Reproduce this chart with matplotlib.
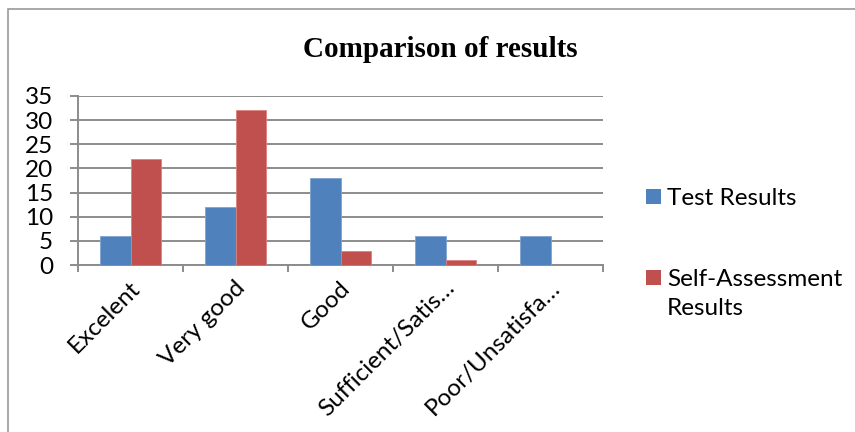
import numpy as np
import matplotlib
matplotlib.use("Agg")
import matplotlib.pyplot as plt
import matplotlib.transforms as mtransforms
from matplotlib.patches import Rectangle

categories = ["Excelent", "Very good", "Good", "Sufficient/Satis…", "Poor/Unsatisfa…"]
test_results = [6, 12, 18, 6, 6]
self_assessment = [22, 32, 3, 1, 0]
series_names = ["Test Results", "Self-Assessment\nResults"]

blue = "#4F81BD"
red = "#C0504D"
grid_col = "#8C8C8C"
fsize = 17.5

plt.rcParams["font.family"] = ["Lato", "DejaVu Sans"]

W, H = 855, 432
fig = plt.figure(figsize=(W / 100, H / 100), dpi=100)

def px(x, y):
    # pixel position (from top-left) to figure fraction
    return x / W, 1 - y / H

# chart frame
fig.patches.append(Rectangle((8 / W, -0.2), 1.2, 1.2 - 9 / H, transform=fig.transFigure,
                             fill=False, edgecolor="#9A9A9A", lw=1.2))

left, top = px(78, 96)
right, bottom = px(603, 265)
ax = fig.add_axes([left, bottom, right - left, top - bottom])

x = np.arange(len(categories))
bw = 0.286
ax.bar(x - bw / 2, test_results, bw, color=blue, edgecolor="#7FA3D0", linewidth=0.6, zorder=3)
ax.bar(x + bw / 2, self_assessment, bw, color=red, edgecolor="#D88380", linewidth=0.6, zorder=3)

ax.set_xlim(-0.5, len(categories) - 0.5)
ax.set_ylim(0, 35)
ax.set_yticks(range(0, 36, 5))
ax.yaxis.grid(True, color=grid_col, lw=1.4, zorder=0)
ax.set_axisbelow(True)

for s in ["top", "right"]:
    ax.spines[s].set_visible(False)
for s in ["left", "bottom"]:
    ax.spines[s].set_color(grid_col)
    ax.spines[s].set_linewidth(1.4)

ax.tick_params(axis="y", length=6, width=1.4, color=grid_col, labelsize=fsize, pad=12)
ax.set_xticks(np.arange(-0.5, len(categories)), labels=[])
ax.tick_params(axis="x", which="major", length=5, width=1.4, color=grid_col)
ax.set_xticks(x, labels=categories, minor=True)
ax.tick_params(axis="x", which="minor", length=0, labelsize=fsize, pad=14)
shift = mtransforms.ScaledTranslation(6 / 100, 0, fig.dpi_scale_trans)
for lab in ax.get_xticklabels(minor=True):
    lab.set_rotation(45)
    lab.set_ha("right")
    lab.set_va("center")
    lab.set_rotation_mode("anchor")
    lab.set_transform(lab.get_transform() + shift)

# title
tx, ty = px(440, 57)
fig.text(tx, ty, "Comparison of results", family=["Liberation Serif", "DejaVu Serif"],
         weight="bold", size=21, ha="center", va="baseline")

# legend
for (cy, col, name) in [(196, blue, series_names[0]), (277, red, series_names[1])]:
    sx, sy = px(646, cy + 7.5)
    fig.patches.append(Rectangle((sx, sy), 15 / W, 15 / H, transform=fig.transFigure,
                                 facecolor=col, edgecolor="none"))
    lx, ly = px(667, cy - 8)
    fig.text(lx, ly, name, size=fsize, ha="left", va="top", linespacing=1.45)

fig.savefig("out.png", dpi=100)
